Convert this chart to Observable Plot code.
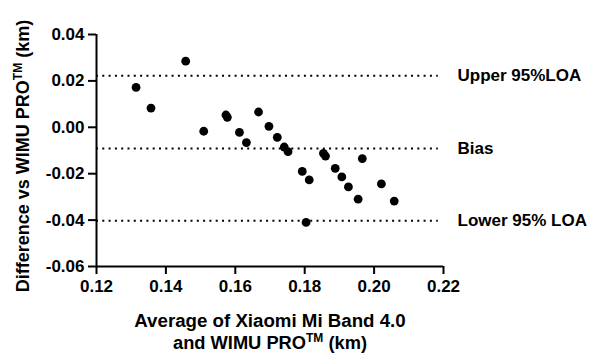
<!DOCTYPE html>
<html>
<head>
<meta charset="utf-8">
<script src="https://cdn.jsdelivr.net/npm/d3@7"></script>
<script src="https://cdn.jsdelivr.net/npm/@observablehq/plot@0.6"></script>
<style>
  html, body { margin: 0; padding: 0; background: #fff; }
  #chart svg { display: block; }
  #chart svg [aria-label="x-axis tick"], #chart svg [aria-label="y-axis tick"] { stroke-width: 2px; }
</style>
</head>
<body>
<div id="chart"></div>
<script>
// Averages (km) and differences (km)
const averages = [0.1314, 0.1357, 0.1457, 0.1509, 0.1573, 0.1577, 0.1612, 0.1632, 0.1667, 0.1697,
                  0.1721, 0.1741, 0.1752, 0.1793, 0.1813, 0.1804, 0.1854, 0.1860, 0.1888, 0.1907,
                  0.1926, 0.1954, 0.1966, 0.2021, 0.2058];
const differences = [0.0172, 0.0083, 0.0285, -0.0017, 0.0053, 0.0043, -0.0022, -0.0066, 0.0066, 0.0004,
                     -0.0043, -0.0085, -0.0105, -0.0190, -0.0227, -0.0410, -0.0112, -0.0124, -0.0177, -0.0214,
                     -0.0257, -0.0310, -0.0135, -0.0244, -0.0318];
const limitLabels = ["Upper 95%LOA", "Bias", "Lower 95% LOA"];
const limitValues = [0.0222, -0.0091, -0.0403];
const xTicks = [0.12, 0.14, 0.16, 0.18, 0.20, 0.22];
const yTicks = [-0.06, -0.04, -0.02, 0.00, 0.02, 0.04];

const points = averages.map((a, i) => ({avg: a, diff: differences[i]}));
const limits = limitLabels.map((l, i) => ({label: l, value: limitValues[i]}));
const fmt = d => d.toFixed(2);

const chart = Plot.plot({
  width: 589,
  height: 356,
  marginLeft: 96,
  marginRight: 146,
  marginTop: 34,
  marginBottom: 90,
  x: {domain: [0.12, 0.22]},
  y: {domain: [-0.06, 0.04]},
  style: {fontFamily: "'Liberation Sans', Arial, sans-serif", fontWeight: "bold", fontSize: "17px", color: "black", background: "white"},
  marks: [
    Plot.axisX({ticks: xTicks, tickFormat: fmt, tickSize: 8, tickPadding: 5, strokeWidth: 2, label: null, fontSize: 17}),
    Plot.axisY({ticks: yTicks, tickFormat: fmt, tickSize: 8, tickPadding: 4, strokeWidth: 2, label: null, fontSize: 17}),
    Plot.ruleY([-0.06], {x1: 0.12, x2: 0.22, stroke: "black", strokeWidth: 2}),
    Plot.ruleX([0.12], {y1: -0.06, y2: 0.04, stroke: "black", strokeWidth: 2}),
    Plot.ruleY(limits, {y: "value", x1: 0.12, x2: 0.2185, stroke: "black", strokeWidth: 2, strokeDasharray: "2,4.3"}),
    Plot.dot(points, {x: "avg", y: "diff", r: 4.4, fill: "black", stroke: "none"}),
    Plot.text(limits, {x: 0.22, y: "value", text: "label", dx: 14, textAnchor: "start", fontSize: 17, fontWeight: "bold", fill: "black"})
  ]
});
document.getElementById("chart").appendChild(chart);

const svg = d3.select(chart);
svg.selectAll('[aria-label="x-axis tick label"], [aria-label="y-axis tick label"]')
  .attr("font-size", 17).style("font-size", "17px").style("font-weight", "bold");

// Axis titles with superscript TM
const font = "'Liberation Sans', Arial, sans-serif";
function addTitle(g, before, after) {
  g.append("tspan").text(before);
  g.append("tspan").attr("font-size", 12).attr("dy", -7).text("TM");
  g.append("tspan").attr("dy", 7).text(after);
}
const yt = svg.append("text")
  .attr("transform", "translate(29,156) rotate(-90)")
  .attr("text-anchor", "middle")
  .attr("font-family", font).attr("font-weight", "bold").attr("font-size", 18).attr("fill", "black");
addTitle(yt, "Difference vs WIMU PRO", " (km)");

svg.append("text")
  .attr("x", 270).attr("y", 327)
  .attr("text-anchor", "middle")
  .attr("font-family", font).attr("font-weight", "bold").attr("font-size", 18.7).attr("fill", "black")
  .text("Average of Xiaomi Mi Band 4.0");
const xt2 = svg.append("text")
  .attr("x", 270).attr("y", 349)
  .attr("text-anchor", "middle")
  .attr("font-family", font).attr("font-weight", "bold").attr("font-size", 18.3).attr("fill", "black");
addTitle(xt2, "and WIMU PRO", " (km)");
</script>
</body>
</html>
